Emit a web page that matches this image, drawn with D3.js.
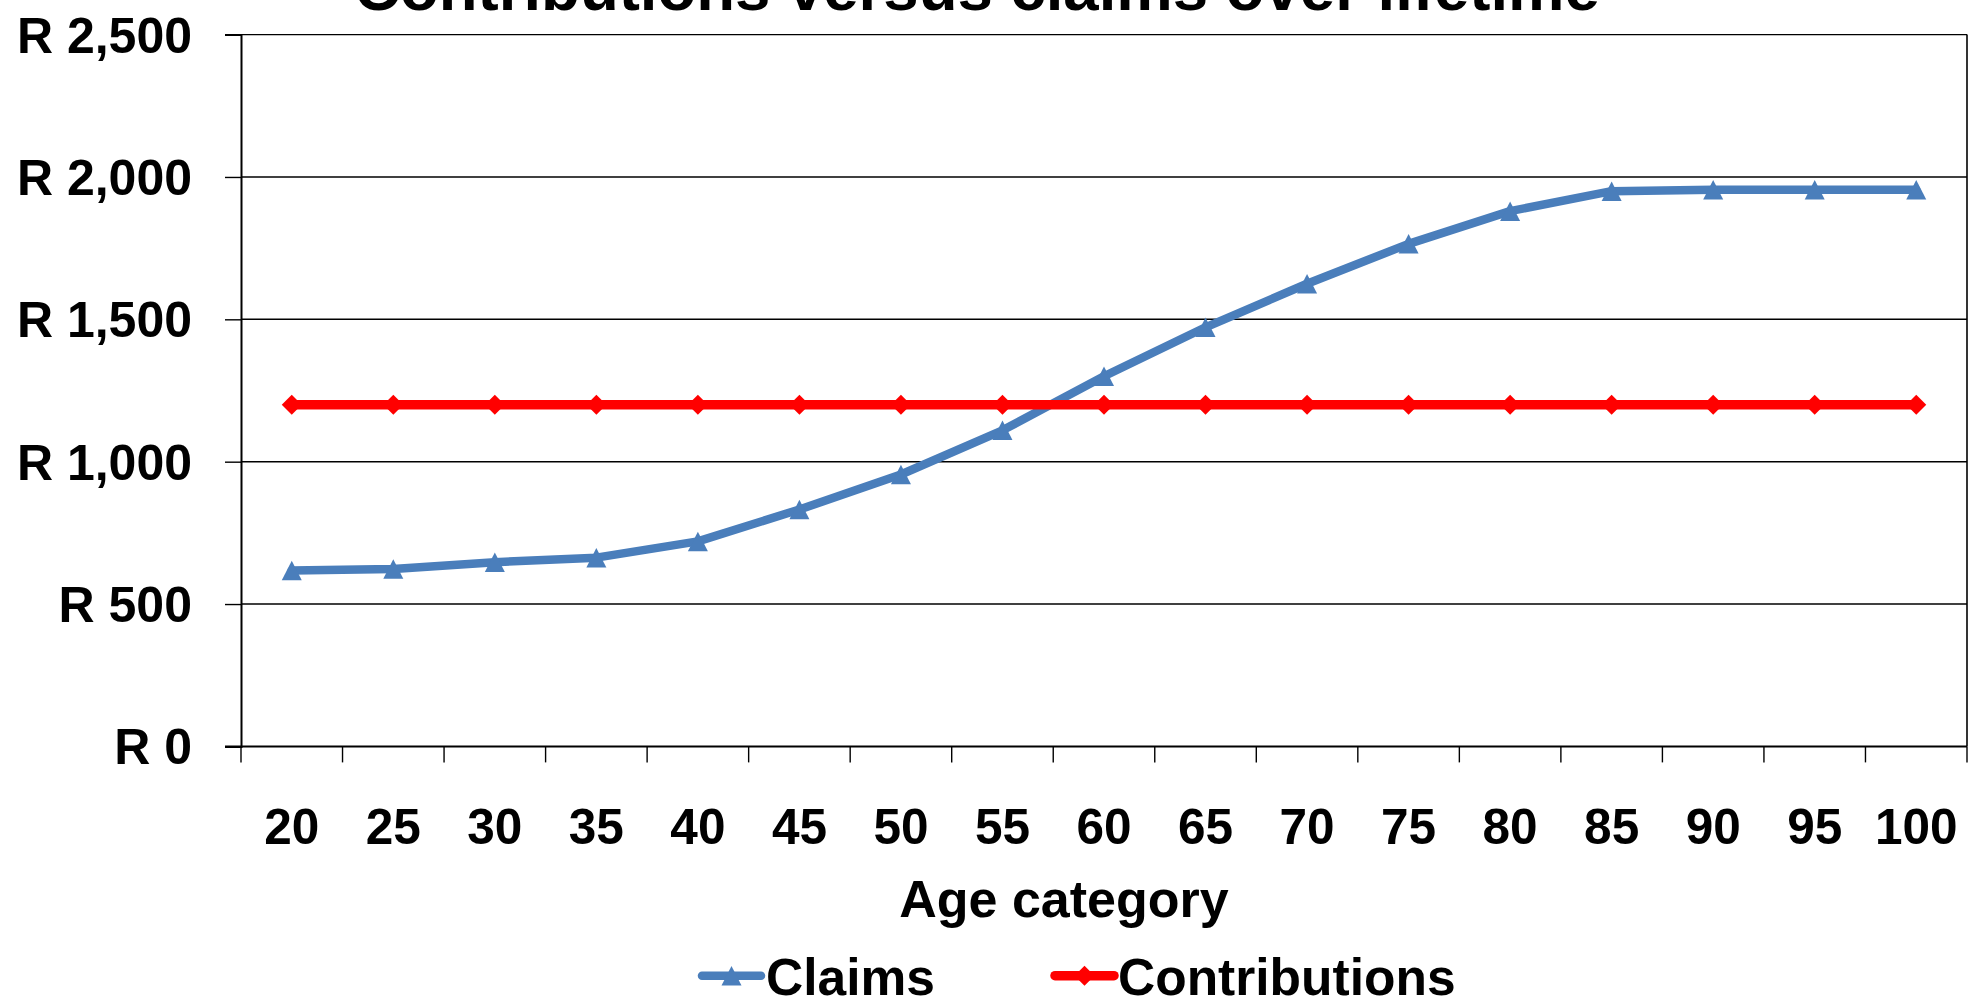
<!DOCTYPE html>
<html>
<head>
<meta charset="utf-8">
<script src="https://cdn.jsdelivr.net/npm/d3@7/dist/d3.min.js"></script>
<style>
  html, body { margin: 0; padding: 0; background: #ffffff; }
  svg { display: block; }
  text { font-family: "Liberation Sans", Arial, Helvetica, sans-serif; font-weight: bold; fill: #000; }
</style>
</head>
<body>
<svg id="chart" width="1979" height="1000"></svg>
<script>
// Age bands on the category axis
const categories = ["20", "25", "30", "35", "40", "45", "50", "55", "60", "65", "70", "75", "80", "85", "90", "95", "100"];

// Monthly amounts per age band (Rand)
const claims = [618, 623, 647, 663, 720, 832, 955, 1110, 1300, 1472, 1625, 1765, 1880, 1950, 1955, 1955, 1955];
const contributions = [1200, 1200, 1200, 1200, 1200, 1200, 1200, 1200, 1200, 1200, 1200, 1200, 1200, 1200, 1200, 1200, 1200];

// Value axis ticks
const yTicks = [0, 500, 1000, 1500, 2000, 2500];

const seriesNames = ["Claims", "Contributions"];
const seriesColors = ["#4A7EBB", "#FF0000"];

const W = 1979, H = 1000;
const plot = { left: 241, right: 1967, top: 34.6, bottom: 746.4 };

const svg = d3.select("#chart");
svg.append("rect").attr("width", W).attr("height", H).attr("fill", "#fff");

const x = d3.scaleBand().domain(categories).range([plot.left, plot.right]).paddingInner(0).paddingOuter(0);
const y = d3.scaleLinear().domain([0, 2500]).range([plot.bottom, plot.top]);
const cx = c => x(c) + x.bandwidth() / 2;

// Horizontal gridlines
svg.append("g")
  .selectAll("line")
  .data(yTicks.filter(v => v > 0))
  .join("line")
  .attr("x1", plot.left).attr("x2", plot.right)
  .attr("y1", d => y(d)).attr("y2", d => y(d))
  .attr("stroke", "#000").attr("stroke-width", 1.4);

// Right border of the plot area
svg.append("line")
  .attr("x1", plot.right).attr("x2", plot.right)
  .attr("y1", plot.top).attr("y2", plot.bottom)
  .attr("stroke", "#000").attr("stroke-width", 1.6);

// Value axis
const yAxis = svg.append("g")
  .attr("transform", `translate(${plot.left},0)`)
  .call(d3.axisLeft(y).tickValues(yTicks).tickSize(16).tickPadding(0)
    .tickFormat(d => "R " + d3.format(",")(d)));
yAxis.select(".domain").attr("stroke", "#000").attr("stroke-width", 2);
yAxis.selectAll(".tick line").attr("stroke", "#000").attr("stroke-width", 1.4);
yAxis.selectAll(".tick text")
  .attr("x", -49).attr("y", 17.5).attr("dy", null)
  .attr("text-anchor", "end")
  .style("font-size", "50px");

// Category axis: line, boundary ticks, labels
const xAxis = svg.append("g")
  .attr("transform", `translate(0,${plot.bottom})`)
  .call(d3.axisBottom(x).tickSize(0).tickPadding(0));
xAxis.select(".domain").remove();
xAxis.selectAll(".tick text")
  .attr("y", 98).attr("dy", null)
  .style("font-size", "49.5px");

svg.append("line")
  .attr("x1", plot.left - 16).attr("x2", plot.right)
  .attr("y1", plot.bottom).attr("y2", plot.bottom)
  .attr("stroke", "#000").attr("stroke-width", 2);

const boundaries = categories.map(c => x(c)).concat([x(categories[categories.length - 1]) + x.bandwidth()]);
svg.append("g")
  .selectAll("line")
  .data(boundaries)
  .join("line")
  .attr("x1", d => d).attr("x2", d => d)
  .attr("y1", plot.bottom).attr("y2", plot.bottom + 16)
  .attr("stroke", "#000").attr("stroke-width", 1.4);

// Axis title
svg.append("text")
  .attr("x", 1064).attr("y", 916.5)
  .attr("text-anchor", "middle")
  .style("font-size", "52px")
  .text("Age category");

// Chart title (sits at the very top edge)
svg.append("text")
  .attr("x", 977).attr("y", 9.5)
  .attr("text-anchor", "middle")
  .style("font-size", "63.5px")
  .text("Contributions versus claims over lifetime");

// Marker shapes
const triangle = "M0,-9.75L10,9.75L-10,9.75Z";
const diamond = "M0,-10L10,0L0,10L-10,0Z";
const markers = [triangle, diamond];
const widths = [8.5, 9.5];

const line = d3.line().x(d => cx(d.c)).y(d => y(d.v));
[claims, contributions].forEach((vals, i) => {
  const pts = categories.map((c, k) => ({ c, v: vals[k] }));
  const g = svg.append("g");
  g.append("path")
    .datum(pts)
    .attr("d", line)
    .attr("fill", "none")
    .attr("stroke", seriesColors[i])
    .attr("stroke-width", widths[i])
    .attr("stroke-linejoin", "round")
    .attr("stroke-linecap", "round");
  g.selectAll("path.mk")
    .data(pts)
    .join("path")
    .attr("class", "mk")
    .attr("d", markers[i])
    .attr("transform", d => `translate(${cx(d.c)},${y(d.v)})`)
    .attr("fill", seriesColors[i]);
});

// Legend
const legendItems = [
  { x1: 702, x2: 761, tx: 766 },
  { x1: 1055, x2: 1114, tx: 1118 }
];
const ly = 975.7;
legendItems.forEach((it, i) => {
  const g = svg.append("g");
  g.append("line")
    .attr("x1", it.x1).attr("x2", it.x2)
    .attr("y1", ly).attr("y2", ly)
    .attr("stroke", seriesColors[i]).attr("stroke-width", widths[i])
    .attr("stroke-linecap", "round");
  g.append("path")
    .attr("d", markers[i])
    .attr("transform", `translate(${(it.x1 + it.x2) / 2},${ly})`)
    .attr("fill", seriesColors[i]);
  g.append("text")
    .attr("x", it.tx).attr("y", 995)
    .style("font-size", "51.5px")
    .text(seriesNames[i]);
});
</script>
</body>
</html>
